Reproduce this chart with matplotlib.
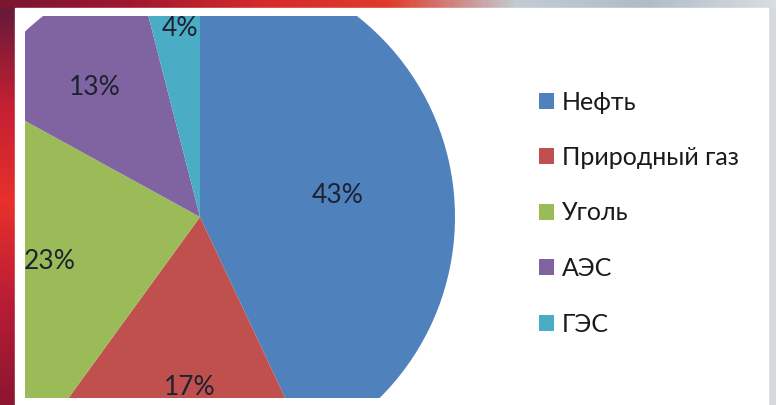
import matplotlib.pyplot as plt
import numpy as np
from matplotlib.patches import Rectangle
from matplotlib.colors import LinearSegmentedColormap

# energy mix shares, %
sources = ["Нефть", "Природный газ", "Уголь", "АЭС", "ГЭС"]
shares = [43, 17, 23, 13, 4]
colors = ["#4F81BD", "#C0504D", "#9BBB59", "#8064A2", "#4BACC6"]

plt.rcParams["font.family"] = ["Lato", "DejaVu Sans"]

W, H = 776, 405
fig = plt.figure(figsize=(W / 100, H / 100), dpi=100)
fig.patch.set_facecolor("#b9c4cc")

ax = fig.add_axes([0, 0, 1, 1])

# slide background: red band on the left and top-left, grey elsewhere
red = LinearSegmentedColormap.from_list("red", ["#5e1a3a", "#c21f33", "#e8302c", "#b81c36", "#8c1530"])
grad = np.linspace(0, 1, 200).reshape(-1, 1)
ax.imshow(grad, cmap=red, extent=(0, 16, 0, H), aspect="auto", zorder=0)
top = LinearSegmentedColormap.from_list("top", ["#7a1530", "#a01830", "#d42a2c", "#e03a2a", "#c3ccd3", "#b0bcc6", "#d8dde2"])
ax.imshow(np.linspace(0, 1, 300).reshape(1, -1), cmap=top, extent=(0, W, H - 9, H), aspect="auto", zorder=0)
ax.add_patch(Rectangle((768, 0), 8, H - 9, color="#d6dadd", zorder=0))

# white slide panel
ax.add_patch(Rectangle((15, 0), 753, H - 8, color="white", zorder=1))

center = (200, 188)
radius = 255
wedges, _ = ax.pie(shares, colors=colors, startangle=90, counterclock=False,
                   center=center, radius=radius, frame=True,
                   wedgeprops=dict(linewidth=0))
ax.set_xlim(0, W)
ax.set_ylim(0, H)
ax.set_aspect("equal")
ax.axis("off")

# chart plot area cuts the pie off
clip = Rectangle((25, 7), 500, 382, transform=ax.transData)
for w in wedges:
    w.set_clip_on(True)
    w.set_clip_path(clip)
    w.set_zorder(2)

label_dist = [0.545, 0.67, 0.614, 0.652, 0.745]
label_nudge = [-3.5, 2.1, 4.1, 1.3, -1.2]
for w, s, d, n in zip(wedges, shares, label_dist, label_nudge):
    ang = np.deg2rad((w.theta1 + w.theta2) / 2 + n)
    x = center[0] + d * radius * np.cos(ang)
    y = center[1] + d * radius * np.sin(ang)
    ax.text(x, y, f"{s}%", ha="center", va="center", fontsize=19,
            color="#1e2230", zorder=3)

leg = ax.legend(wedges, sources, loc="upper left",
                bbox_to_anchor=(526, H - 78), bbox_transform=ax.transData,
                frameon=False, fontsize=18, handlelength=0.6, handleheight=0.6,
                handletextpad=0.35, labelspacing=1.3, borderpad=0)
for t in leg.get_texts():
    t.set_color("#1a1a1a")
leg.set_zorder(4)

fig.savefig("out.png", dpi=100, facecolor=fig.get_facecolor())
